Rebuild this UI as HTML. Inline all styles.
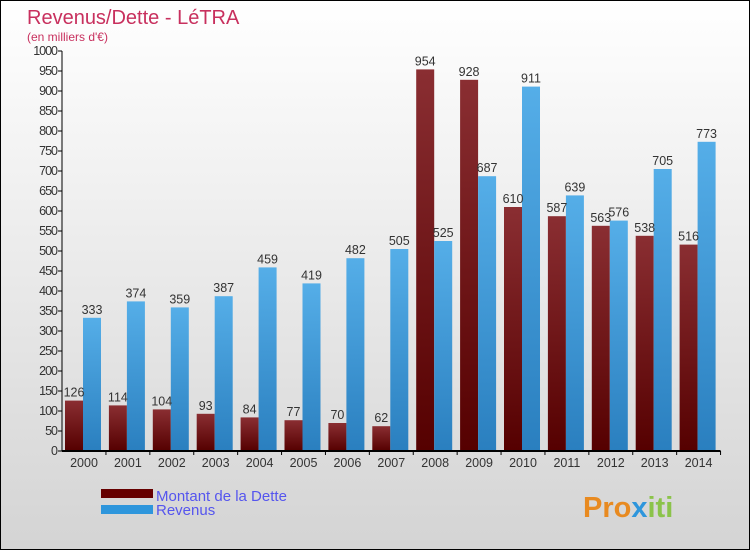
<!DOCTYPE html>
<html><head><meta charset="utf-8"><style>
body{margin:0}
#c{width:750px;height:550px;position:relative;overflow:hidden;box-sizing:border-box;border:1px solid #000;background:linear-gradient(#ffffff,#d4d4d4);font-family:"Liberation Sans",sans-serif}
svg{position:absolute;left:0;top:0}
</style></head><body>
<div id="c">
<svg id="s" width="750" height="550">
<defs>
<linearGradient id="gd" x1="0" y1="0" x2="0" y2="1"><stop offset="0" stop-color="#8a2e32"/><stop offset="1" stop-color="#550000"/></linearGradient>
<linearGradient id="gr" x1="0" y1="0" x2="0" y2="1"><stop offset="0" stop-color="#55aee8"/><stop offset="1" stop-color="#2a7fbf"/></linearGradient>
</defs>
<text x="26" y="23" font-size="20" fill="#c8305e">Revenus/Dette - LéTRA</text>
<text x="26" y="40" font-size="12" fill="#c8305e">(en milliers d'€)</text>
<rect x="100" y="488" width="52" height="9" fill="#660000"/>
<text x="155" y="500" font-size="15" fill="#5555ee">Montant de la Dette</text>
<rect x="100" y="504" width="52" height="9" fill="#2e96dc"/>
<text x="155" y="514" font-size="15" fill="#5555ee">Revenus</text>
<text x="582" y="516" font-size="29" font-weight="bold" fill="#e88a20">Pro<tspan fill="#2e96dc">x</tspan><tspan fill="#8bc34a">iti</tspan></text>
</svg>
</div>
<script>
const years=["2000","2001","2002","2003","2004","2005","2006","2007","2008","2009","2010","2011","2012","2013","2014"];
const dette=[126,114,104,93,84,77,70,62,954,928,610,587,563,538,516];
const revenus=[333,374,359,387,459,419,482,505,525,687,911,639,576,705,773];
const yTicks=[0,50,100,150,200,250,300,350,400,450,500,550,600,650,700,750,800,850,900,950,1000];
const s=document.getElementById('s');const NS='http://www.w3.org/2000/svg';
const x0=61,y0=450,gw=43.9;
const Y=v=>y0-v*0.4;
const X=i=>x0+22+i*gw;
function mk(t,a,txt){const e=document.createElementNS(NS,t);for(const k in a)e.setAttribute(k,a[k]);if(txt!=null)e.textContent=txt;s.appendChild(e);return e;}
yTicks.forEach(v=>{
 const t=mk('line',{x1:x0-4,x2:x0,y1:Y(v),y2:Y(v),stroke:'#000'});
 
 
 const l=mk('text',{x:x0-5,y:Y(v)+4,'font-size':12.5,'text-anchor':'end',fill:'#333','letter-spacing':'-1'},v);
 
 
});
years.forEach((yr,i)=>{
 const cx=X(i);
 const bd=mk('rect',{x:cx-19,y:Y(dette[i]),width:18,height:dette[i]*0.4,fill:'url(#gd)'});
 
 
 const br=mk('rect',{x:cx-1,y:Y(revenus[i]),width:18,height:revenus[i]*0.4,fill:'url(#gr)'});
 
 
 const ld=mk('text',{x:cx-10,y:Y(dette[i])-4,'font-size':12.5,'text-anchor':'middle',fill:'#333'},dette[i]);
 
 
 const lr=mk('text',{x:cx+8,y:Y(revenus[i])-4,'font-size':12.5,'text-anchor':'middle',fill:'#333'},revenus[i]);
 
 
 const xl=mk('text',{x:cx,y:466,'font-size':12.5,'text-anchor':'middle',fill:'#333'},yr);
 
 
 const xt=mk('line',{x1:cx+gw/2,x2:cx+gw/2,y1:y0,y2:y0+4,stroke:'#000'});
 
 
});
const ya=mk('line',{x1:x0,x2:x0,y1:Y(1000),y2:y0,stroke:'#000'});


const xa=mk('line',{x1:x0,x2:X(14)+gw/2,y1:y0,y2:y0,stroke:'#000','stroke-width':2});


</script>
</body></html>
